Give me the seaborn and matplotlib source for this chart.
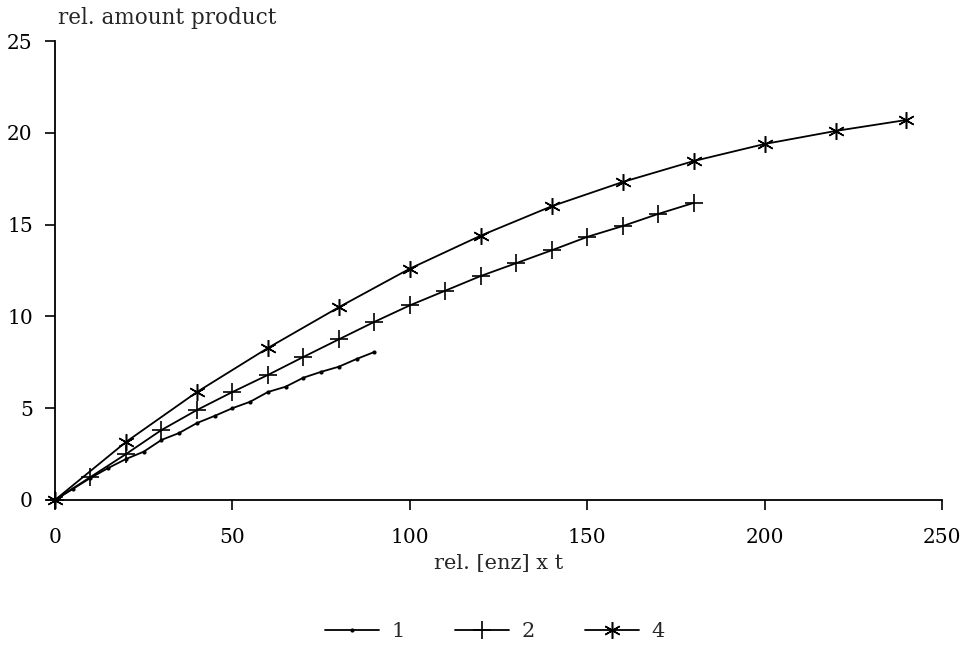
import matplotlib
matplotlib.use("Agg")
import matplotlib.pyplot as plt
import seaborn as sns
import pandas as pd

# ---- data ----
x1 = [0, 5, 10, 15, 20, 25, 30, 35, 40, 45, 50, 55, 60, 65, 70, 75, 80, 85, 90]
y1 = [0, 0.6, 1.2, 1.74, 2.23, 2.63, 3.27, 3.65, 4.19, 4.58, 5.0, 5.35, 5.88,
      6.17, 6.66, 6.98, 7.26, 7.68, 8.06]

x2 = [0, 10, 20, 30, 40, 50, 60, 70, 80, 90, 100, 110, 120, 130, 140, 150, 160, 170, 180]
y2 = [0, 1.25, 2.5, 3.81, 4.9, 5.88, 6.81, 7.79, 8.75, 9.7, 10.6, 11.4, 12.2,
      12.9, 13.6, 14.33, 14.92, 15.58, 16.18]

x4 = [0, 20, 40, 60, 80, 100, 120, 140, 160, 180, 200, 220, 240]
y4 = [0, 3.16, 5.88, 8.28, 10.5, 12.6, 14.4, 16.0, 17.32, 18.46, 19.39, 20.1, 20.7]

series_labels = ["1", "2", "4"]
x_ticks = [0, 50, 100, 150, 200, 250]
y_ticks = [0, 5, 10, 15, 20, 25]
x_label = "rel. [enz] x t"
y_label = "rel. amount product"

sns.set_theme(style="ticks")
plt.rcParams["font.family"] = ["DejaVu Serif", "DejaVu Sans"]

fig = plt.figure(figsize=(9.7, 6.5), dpi=100)
ax = fig.add_axes([0.0567, 0.2308, 0.9144, 0.7061])

styles = [
    dict(marker="o", markersize=3, mew=0),
    dict(marker="+", markersize=13, mew=1.2),
    dict(marker=(6, 2, 0), markersize=12, mew=1.1),
]
for xs, ys, lab, st in zip([x1, x2, x4], [y1, y2, y4], series_labels, styles):
    df = pd.DataFrame({"x": xs, "y": ys})
    sns.lineplot(data=df, x="x", y="y", ax=ax, color="black", linewidth=1.3,
                 label=lab, clip_on=False, markeredgecolor="black", **st)

ax.set_xlim(0, 250)
ax.set_ylim(0, 25)
ax.set_xticks(x_ticks)
ax.set_yticks(y_ticks)
sns.despine(ax=ax)
for s in ["left", "bottom"]:
    ax.spines[s].set_linewidth(1.3)
    ax.spines[s].set_color("black")
ax.tick_params(axis="both", direction="out", length=7, width=1.2, colors="black",
               labelsize=14.5)
ax.tick_params(axis="x", pad=13)
ax.tick_params(axis="y", pad=9)
ax.set_xlabel(x_label, fontsize=15, labelpad=5)
ax.set_ylabel("")
fig.text(0.06, 0.972, y_label, fontsize=15.5, ha="left", va="center")

ax.get_legend().remove()
handles, labels = ax.get_legend_handles_labels()
fig.legend(handles, labels, loc="center", bbox_to_anchor=(0.51, 0.028), ncol=3,
           frameon=False, fontsize=15, handlelength=2.6, handletextpad=0.6,
           columnspacing=2.4)

fig.savefig("out.png", dpi=100, facecolor="white")
